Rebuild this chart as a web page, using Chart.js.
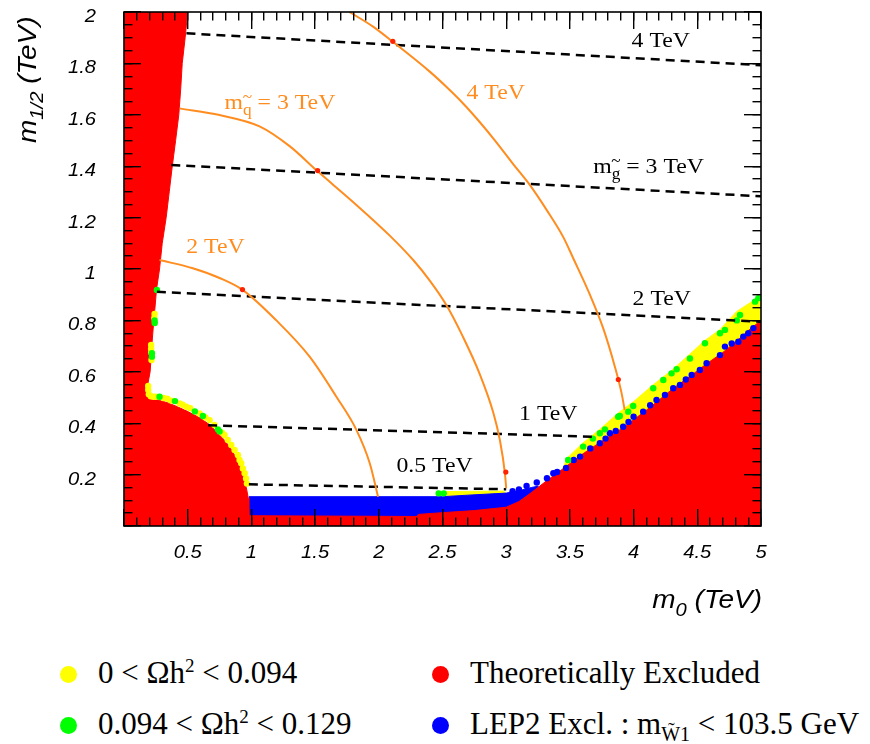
<!DOCTYPE html>
<html>
<head>
<meta charset="utf-8">
<script src="https://cdn.jsdelivr.net/npm/chart.js@4.4.0/dist/chart.umd.min.js"></script>
<style>
  body { margin: 0; background: #fff; }
  #wrap { position: relative; width: 870px; height: 744px; overflow: hidden; }
  #box { position: absolute; left: 0; top: 0; width: 870px; height: 640px; }
  .leg { position: absolute; font-family: "Liberation Serif", "Times New Roman", serif; font-size: 31px; line-height: 31px; white-space: nowrap; color: #000; }
  .dot { position: absolute; width: 17px; height: 17px; border-radius: 50%; }
  .sup { font-size: 19px; position: relative; top: -11px; }
  .sub { font-size: 20px; position: relative; top: 7px; }
</style>
</head>
<body>
<div id="wrap">
  <div id="box"><canvas id="c"></canvas></div>
  <div id="legend"></div>
</div>
<script>
// m0 / m1/2 plane, TeV
const orange = '#ff8c1e';

// theoretically excluded: left strip edge (filled up to the top)
const stripEdge = [
  {x: 0, y: 0}, {x: 0.185, y: 0}, {x: 0.188, y: 0.53}, {x: 0.19, y: 0.56}, {x: 0.205, y: 0.6},
  {x: 0.212, y: 0.65}, {x: 0.218, y: 0.7}, {x: 0.226, y: 0.75}, {x: 0.234, y: 0.8}, {x: 0.245, y: 0.86},
  {x: 0.255, y: 0.92}, {x: 0.279, y: 1.0}, {x: 0.30, y: 1.1}, {x: 0.331, y: 1.2}, {x: 0.355, y: 1.3},
  {x: 0.379, y: 1.4}, {x: 0.405, y: 1.5}, {x: 0.43, y: 1.6}, {x: 0.445, y: 1.7}, {x: 0.457, y: 1.8},
  {x: 0.48, y: 1.9}, {x: 0.5, y: 2.0}
];
// theoretically excluded: low m1/2 edge (filled down to 0)
const lowEdge = [
  {x: 0, y: 0.52}, {x: 0.19, y: 0.52}, {x: 0.23, y: 0.495}, {x: 0.28, y: 0.488}, {x: 0.34, y: 0.48},
  {x: 0.40, y: 0.468}, {x: 0.49, y: 0.448}, {x: 0.59, y: 0.422}, {x: 0.67, y: 0.395}, {x: 0.74, y: 0.36},
  {x: 0.79, y: 0.333}, {x: 0.84, y: 0.30}, {x: 0.88, y: 0.265}, {x: 0.91, y: 0.235}, {x: 0.94, y: 0.19},
  {x: 0.96, y: 0.15}, {x: 0.975, y: 0.11}, {x: 0.98, y: 0.04}, {x: 2.3, y: 0.037}, {x: 2.31, y: 0.045},
  {x: 2.5, y: 0.052}, {x: 2.75, y: 0.06}, {x: 3.0, y: 0.073}, {x: 3.1, y: 0.095}, {x: 3.19, y: 0.127},
  {x: 3.32, y: 0.177}, {x: 3.46, y: 0.228}, {x: 3.6, y: 0.28}, {x: 3.75, y: 0.33}, {x: 3.92, y: 0.383},
  {x: 4.13, y: 0.462}, {x: 4.31, y: 0.535}, {x: 4.45, y: 0.585}, {x: 4.57, y: 0.63}, {x: 4.7, y: 0.675},
  {x: 4.81, y: 0.72}, {x: 4.9, y: 0.76}, {x: 4.97, y: 0.788}, {x: 5.0, y: 0.80}
];
// LEP2 chargino band top
const lepTop = [
  {x: 0.98, y: 0.114}, {x: 2.5, y: 0.114}, {x: 2.7, y: 0.12}, {x: 3.0, y: 0.128}, {x: 3.1, y: 0.137},
  {x: 3.2, y: 0.15}, {x: 3.25, y: 0.155}, {x: 3.3, y: 0}
];
// 0 < Oh2 < 0.094 band top (focus point side)
const yellowTop = [
  {x: 2.53, y: 0.134}, {x: 2.98, y: 0.136}, {x: 3.05, y: 0.10}, {x: 3.3, y: 0.15}, {x: 3.44, y: 0.22},
  {x: 3.48, y: 0.265}, {x: 3.6, y: 0.322}, {x: 3.74, y: 0.378}, {x: 3.88, y: 0.44}, {x: 4.0, y: 0.484},
  {x: 4.15, y: 0.548}, {x: 4.3, y: 0.606}, {x: 4.44, y: 0.668}, {x: 4.56, y: 0.722}, {x: 4.68, y: 0.765},
  {x: 4.81, y: 0.835}, {x: 4.9, y: 0.864}, {x: 5.0, y: 0.895}
];
const yellowPts = [
  {x: 0.213, y: 0.704}, {x: 0.213, y: 0.69}, {x: 0.214, y: 0.675}, {x: 0.216, y: 0.646}, {x: 0.24, y: 0.825},
  {x: 0.238, y: 0.81}, {x: 0.19, y: 0.545}, {x: 0.19, y: 0.53}, {x: 0.195, y: 0.513}, {x: 0.21, y: 0.505},
  {x: 0.23, y: 0.503}, {x: 0.25, y: 0.503}, {x: 0.31, y: 0.498}, {x: 0.34, y: 0.495}, {x: 0.37, y: 0.488},
  {x: 0.436, y: 0.477}, {x: 0.46, y: 0.472}, {x: 0.489, y: 0.464}, {x: 0.52, y: 0.458}, {x: 0.593, y: 0.438},
  {x: 0.64, y: 0.422}, {x: 0.672, y: 0.412}, {x: 0.711, y: 0.393}, {x: 0.77, y: 0.363}, {x: 0.789, y: 0.354},
  {x: 0.815, y: 0.335}, {x: 0.842, y: 0.315}, {x: 0.868, y: 0.296}, {x: 0.894, y: 0.276}, {x: 0.907, y: 0.257},
  {x: 0.92, y: 0.244}, {x: 0.933, y: 0.224}, {x: 0.947, y: 0.205}, {x: 0.958, y: 0.185}, {x: 0.965, y: 0.165}
];
const greenPts = [
  {x: 0.258, y: 0.918}, {x: 0.24, y: 0.80}, {x: 0.241, y: 0.79}, {x: 0.219, y: 0.659}, {x: 0.219, y: 0.672},
  {x: 0.279, y: 0.503}, {x: 0.40, y: 0.486}, {x: 0.556, y: 0.446}, {x: 0.619, y: 0.428}, {x: 0.737, y: 0.376},
  {x: 0.75, y: 0.368}, {x: 2.47, y: 0.127}, {x: 2.51, y: 0.127}, {x: 3.486, y: 0.257}, {x: 3.604, y: 0.309},
  {x: 3.68, y: 0.34}, {x: 3.735, y: 0.361}, {x: 3.775, y: 0.376}, {x: 3.879, y: 0.425}, {x: 3.892, y: 0.428},
  {x: 3.958, y: 0.445}, {x: 3.997, y: 0.467}, {x: 4.154, y: 0.536}, {x: 4.233, y: 0.568}, {x: 4.298, y: 0.594},
  {x: 4.338, y: 0.61}, {x: 4.442, y: 0.652}, {x: 4.56, y: 0.711}, {x: 4.678, y: 0.75}, {x: 4.717, y: 0.763},
  {x: 4.81, y: 0.80}, {x: 4.835, y: 0.821}, {x: 4.953, y: 0.873}, {x: 4.979, y: 0.886}
];
const bluePts = [
  {x: 3.05, y: 0.135}, {x: 3.1, y: 0.142}, {x: 3.16, y: 0.156}, {x: 3.24, y: 0.169}, {x: 3.32, y: 0.186},
  {x: 3.37, y: 0.205}, {x: 3.40, y: 0.21}, {x: 3.47, y: 0.226}, {x: 3.53, y: 0.257}, {x: 3.58, y: 0.27},
  {x: 3.66, y: 0.302}, {x: 3.735, y: 0.322}, {x: 3.78, y: 0.34}, {x: 3.814, y: 0.361}, {x: 3.86, y: 0.37},
  {x: 3.918, y: 0.386}, {x: 3.96, y: 0.405}, {x: 4.0, y: 0.425}, {x: 4.075, y: 0.445}, {x: 4.13, y: 0.47},
  {x: 4.18, y: 0.49}, {x: 4.246, y: 0.51}, {x: 4.311, y: 0.536}, {x: 4.364, y: 0.549}, {x: 4.41, y: 0.57},
  {x: 4.456, y: 0.588}, {x: 4.52, y: 0.607}, {x: 4.573, y: 0.633}, {x: 4.678, y: 0.665}, {x: 4.717, y: 0.698},
  {x: 4.77, y: 0.71}, {x: 4.822, y: 0.717}, {x: 4.861, y: 0.737}, {x: 4.90, y: 0.75}, {x: 4.94, y: 0.77}
];
// squark mass contours
const squark2 = [
  {x: 0.279, y: 1.035}, {x: 0.54, y: 1.003}, {x: 0.75, y: 0.965}, {x: 0.933, y: 0.918}, {x: 1.196, y: 0.80},
  {x: 1.457, y: 0.659}, {x: 1.667, y: 0.503}, {x: 1.824, y: 0.374}, {x: 1.929, y: 0.244}, {x: 1.994, y: 0.114}
];
const squark3 = [
  {x: 0.436, y: 1.625}, {x: 0.75, y: 1.599}, {x: 1.064, y: 1.555}, {x: 1.30, y: 1.478}, {x: 1.52, y: 1.38},
  {x: 1.80, y: 1.26}, {x: 2.086, y: 1.13}, {x: 2.27, y: 1.035}, {x: 2.40, y: 0.955}, {x: 2.53, y: 0.86},
  {x: 2.66, y: 0.737}, {x: 2.79, y: 0.594}, {x: 2.90, y: 0.439}, {x: 2.95, y: 0.335}, {x: 2.99, y: 0.205},
  {x: 3.0, y: 0.147}
];
const squark4 = [
  {x: 1.77, y: 2.0}, {x: 1.955, y: 1.943}, {x: 2.11, y: 1.884}, {x: 2.40, y: 1.768}, {x: 2.53, y: 1.709},
  {x: 2.66, y: 1.645}, {x: 2.79, y: 1.573}, {x: 2.92, y: 1.495}, {x: 3.05, y: 1.411}, {x: 3.185, y: 1.327},
  {x: 3.317, y: 1.23}, {x: 3.447, y: 1.125}, {x: 3.526, y: 1.042}, {x: 3.657, y: 0.90}, {x: 3.761, y: 0.77},
  {x: 3.853, y: 0.62}, {x: 3.906, y: 0.516}, {x: 3.93, y: 0.451}
];
// gluino mass contours
const gluino4 = [{x: 0.49, y: 1.917}, {x: 5.0, y: 1.793}];
const gluino3 = [{x: 0.371, y: 1.405}, {x: 5.0, y: 1.283}];
const gluino2 = [{x: 0.258, y: 0.911}, {x: 5.0, y: 0.795}];
const gluino1 = [{x: 0.66, y: 0.392}, {x: 3.70, y: 0.347}];
const gluino05 = [{x: 0.98, y: 0.162}, {x: 3.0, y: 0.143}];
const markPts = [{x: 0.93, y: 0.92}, {x: 1.52, y: 1.383}, {x: 2.11, y: 1.886}, {x: 2.997, y: 0.21}, {x: 3.88, y: 0.57}];

// contour labels: anchor is left end of the baseline
const contourLabels = [
  {x: 0.789, y: 1.623, color: orange, parts: [{t: 'm'}, {t: 'q', sub: true, tilde: true}, {t: ' = 3 TeV'}]},
  {x: 2.688, y: 1.660, color: orange, parts: [{t: '4 TeV'}]},
  {x: 0.489, y: 1.061, color: orange, parts: [{t: '2 TeV'}]},
  {x: 3.984, y: 1.865, color: '#000', parts: [{t: '4 TeV'}]},
  {x: 3.683, y: 1.372, color: '#000', parts: [{t: 'm'}, {t: 'g', sub: true, tilde: true}, {t: ' = 3 TeV'}]},
  {x: 3.992, y: 0.860, color: '#000', parts: [{t: '2 TeV'}]},
  {x: 3.101, y: 0.412, color: '#000', parts: [{t: '1 TeV'}]},
  {x: 2.138, y: 0.211, color: '#000', parts: [{t: '0.5 TeV'}]}
];

const legendItems = [
  {color: '#ffff00', left: 68, top: 674, html: '0 &lt; &Omega;h<span class="sup">2</span> &lt; 0.094'},
  {color: '#00ff00', left: 68, top: 725, html: '0.094 &lt; &Omega;h<span class="sup">2</span> &lt; 0.129'},
  {color: '#ff0000', left: 440, top: 674, html: 'Theoretically Excluded'},
  {color: '#0000ff', left: 440, top: 725, html: 'LEP2 Excl. : m<span class="sub">W&#771;1</span> &lt; 103.5 GeV'}
];

const legendBox = document.getElementById('legend');
legendItems.forEach(it => {
  const d = document.createElement('div');
  d.className = 'dot';
  d.style.left = (it.left - 8.5) + 'px';
  d.style.top = (it.top - 8.5) + 'px';
  d.style.background = it.color;
  legendBox.appendChild(d);
  const t = document.createElement('div');
  t.className = 'leg';
  t.style.left = (it.left + 30) + 'px';
  t.style.top = (it.top - 17) + 'px';
  t.innerHTML = it.html;
  legendBox.appendChild(t);
});

function drawParts(ctx, parts, x0, y0, o) {
  let x = x0;
  parts.forEach(p => {
    const size = p.sub ? o.subSize : o.size;
    const dy = p.sub ? o.subDy : 0;
    ctx.font = (o.style || '') + ' ' + size + 'px ' + o.family;
    const w = ctx.measureText(p.t).width * o.sx;
    if (o.draw !== false) {
      ctx.save();
      ctx.translate(x, y0 + dy);
      ctx.scale(o.sx, 1);
      ctx.fillText(p.t, 0, 0);
      ctx.restore();
      if (p.tilde) {
        ctx.font = size + 'px ' + o.family;
        const tw = ctx.measureText('~').width * o.sx;
        ctx.save();
        ctx.translate(x + (w - tw) / 2, y0 + dy - o.tildeDy);
        ctx.scale(o.sx, 1);
        ctx.fillText('~', 0, 0);
        ctx.restore();
      }
    }
    x += w;
  });
  return x - x0;
}

const fmt = v => String(parseFloat(v.toFixed(2)));

const rootStyle = {
  id: 'rootStyle',
  afterDraw(chart) {
    const {ctx, chartArea: a, scales: {x, y}} = chart;
    ctx.save();

    // tick labels
    ctx.fillStyle = '#000';
    ctx.textBaseline = 'alphabetic';
    const tickFont = {family: '"Liberation Sans", Arial, sans-serif', style: 'italic', size: 18, sx: 1.12};
    x.ticks.forEach(t => {
      if (t.value === 0) return;
      const s = [{t: fmt(t.value)}];
      const w = drawParts(ctx, s, 0, 0, Object.assign({draw: false}, tickFont));
      drawParts(ctx, s, x.getPixelForValue(t.value) - w / 2, a.bottom + 32, tickFont);
    });
    y.ticks.forEach(t => {
      if (t.value === 0) return;
      const s = [{t: fmt(t.value)}];
      const w = drawParts(ctx, s, 0, 0, Object.assign({draw: false}, tickFont));
      drawParts(ctx, s, 96 - w, y.getPixelForValue(t.value) + 10, tickFont);
    });

    // axis titles
    const titleFont = {family: '"Liberation Sans", Arial, sans-serif', style: 'italic', size: 25, subSize: 18, subDy: 8, sx: 1.12};
    const xt = [{t: 'm'}, {t: '0', sub: true}, {t: ' (TeV)'}];
    const xw = drawParts(ctx, xt, 0, 0, Object.assign({}, titleFont, {draw: false}));
    drawParts(ctx, xt, 762 - xw, 608, titleFont);
    ctx.save();
    ctx.translate(36, 143);
    ctx.rotate(-Math.PI / 2);
    drawParts(ctx, [{t: 'm'}, {t: '1/2', sub: true}, {t: ' (TeV)'}], 0, 0, Object.assign({}, titleFont, {subDy: 7}));
    ctx.restore();

    // contour labels
    const labFont = {family: '"Liberation Serif", "Times New Roman", serif', size: 22, subSize: 16, subDy: 6, tildeDy: 13, sx: 1.08};
    contourLabels.forEach(l => {
      ctx.fillStyle = l.color;
      drawParts(ctx, l.parts, x.getPixelForValue(l.x), y.getPixelForValue(l.y), labFont);
    });

    ctx.strokeStyle = '#000';
    ctx.lineWidth = 1.6;
    ctx.strokeRect(a.left, a.top, a.right - a.left, a.bottom - a.top);
    ctx.restore();
  }
};

const area = (data, color, fill, order) => ({
  data, fill, order, backgroundColor: color, borderColor: color, borderWidth: 1,
  pointRadius: 0, tension: 0
});
const dots = (data, color, r, order) => ({
  data, order, showLine: false, pointRadius: r, pointBackgroundColor: color,
  pointBorderWidth: 0, borderColor: color
});
const curve = (data, color, w, dash, order, smooth) => ({
  data, order, fill: false, borderColor: color, borderWidth: w, borderDash: dash,
  pointRadius: 0, cubicInterpolationMode: smooth ? 'monotone' : 'default', tension: 0
});

// ROOT-style axes: tick marks point inward, drawn above the data (grid z: 1).
// Negative tickLength flips the marks into the plot area.
function tickAxis(position, min, max, step, len, weight, size) {
  const horizontal = position === 'top' || position === 'bottom';
  return {
    type: 'linear', position, min, max, weight,
    ticks: {display: false, stepSize: step, autoSkip: false},
    grid: {display: true, drawOnChartArea: false, drawTicks: true, tickLength: -len,
      color: '#000', tickColor: '#000', tickWidth: 1.4, lineWidth: 1.4, z: 1},
    border: {display: false},
    afterFit(s) { if (horizontal) s.height = size; else s.width = size; }
  };
}

new Chart(document.getElementById('c'), {
  type: 'line',
  data: {
    datasets: [
      area(yellowTop, '#ffff00', 'origin', 20),
      area(lepTop, '#0000ff', 'origin', 19),
      area(lowEdge, '#ff0000', 'origin', 18),
      area(stripEdge, '#ff0000', 'end', 18),
      dots(bluePts, '#0000ff', 3.2, 16),
      dots(yellowPts, '#ffff00', 3.2, 15),
      dots(greenPts, '#00ff00', 3.2, 14),
      curve(gluino4, '#000', 2.5, [9, 6], 10, false),
      curve(gluino3, '#000', 2.5, [9, 6], 10, false),
      curve(gluino2, '#000', 2.5, [9, 6], 10, false),
      curve(gluino1, '#000', 2.5, [9, 6], 10, false),
      curve(gluino05, '#000', 2.5, [9, 6], 10, false),
      curve(squark2, orange, 2, [], 8, true),
      curve(squark3, orange, 2, [], 8, true),
      curve(squark4, orange, 2, [], 8, true),
      dots(markPts, '#ff2200', 2.6, 1)
    ]
  },
  options: {
    responsive: true,
    maintainAspectRatio: false,
    animation: false,
    events: [],
    layout: {padding: {left: 0, top: 12, right: 109, bottom: 0}},
    plugins: {legend: {display: false}, tooltip: {enabled: false}},
    scales: {
      xm: tickAxis('bottom', 0, 5, 0.1, 8.5, 0, 0),
      x: tickAxis('bottom', 0, 5, 0.5, 17, 1, 114),
      xtm: tickAxis('top', 0, 5, 0.1, 8.5, 0, 0),
      xt: tickAxis('top', 0, 5, 0.5, 17, 1, 0),
      ym: tickAxis('left', 0, 2, 0.05, 8.5, 0, 0),
      y: tickAxis('left', 0, 2, 0.2, 17, 1, 124),
      yrm: tickAxis('right', 0, 2, 0.05, 8.5, 0, 0),
      yr: tickAxis('right', 0, 2, 0.2, 17, 1, 0)
    }
  },
  plugins: [rootStyle]
});
</script>
</body>
</html>
